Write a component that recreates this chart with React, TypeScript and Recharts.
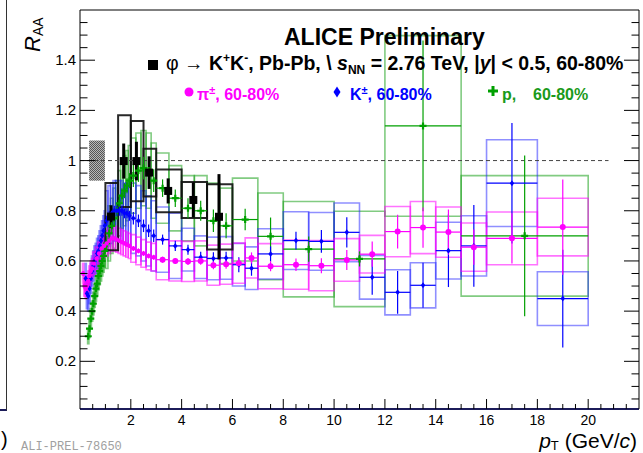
import React from "react";
import {
  ComposedChart,
  XAxis,
  YAxis,
  Scatter,
  ErrorBar,
  ReferenceArea,
  ReferenceLine,
} from "recharts";

const FONT = '"Liberation Sans", Arial, Helvetica, sans-serif';
const PI_COL = "#ff00ff";
const K_COL = "#0000ff";
const P_COL = "#00a000";
const PHI_COL = "#000000";

// axis ticks
const xTicks = Array.from({ length: 43 }, (_, i) => (i + 1) * 0.5);
const xTickLabels = [2, 4, 6, 8, 10, 12, 14, 16, 18, 20];
const yTicks = Array.from({ length: 31 }, (_, i) => Math.round((i + 1) * 5) / 100);
const yTickLabels = ["0.2", "0.4", "0.6", "0.8", "1", "1.2", "1.4"];

// pi+- 60-80%
const piEdges = [
  0.1, 0.15, 0.2, 0.25, 0.3, 0.35, 0.4, 0.45, 0.5, 0.6, 0.7, 0.8, 0.9, 1.0, 1.1, 1.2,
  1.3, 1.4, 1.5, 1.6, 1.7, 1.8, 1.9, 2.0, 2.2, 2.4, 2.6, 2.8, 3.0, 3.5, 4.0, 4.5, 5.0,
  5.5, 6.0, 6.5, 7.0, 8, 9, 10, 11, 12, 13, 14, 15, 16, 18, 20,
];
const piVal = [
  0.55, 0.5, 0.49, 0.5, 0.52, 0.54, 0.56, 0.57, 0.59, 0.61, 0.63, 0.65, 0.66, 0.67, 0.68,
  0.69, 0.69, 0.685, 0.68, 0.675, 0.67, 0.665, 0.66, 0.65, 0.64, 0.63, 0.62, 0.615, 0.605,
  0.6, 0.598, 0.6, 0.583, 0.587, 0.591, 0.612, 0.579, 0.585, 0.581, 0.604, 0.627, 0.717,
  0.733, 0.715, 0.655, 0.69, 0.735,
];
const piStat = [
  0.01, 0.01, 0.01, 0.01, 0.01, 0.01, 0.01, 0.01, 0.008, 0.008, 0.008, 0.008, 0.008, 0.008,
  0.008, 0.008, 0.008, 0.008, 0.008, 0.008, 0.008, 0.008, 0.008, 0.01, 0.01, 0.01, 0.01,
  0.01, 0.012, 0.012, 0.014, 0.015, 0.016, 0.018, 0.02, 0.022, 0.02, 0.025, 0.03, 0.04,
  0.05, 0.067, 0.08, 0.09, 0.07, 0.1, 0.19,
];
const piSys = [
  0.04, 0.04, 0.04, 0.04, 0.04, 0.04, 0.04, 0.04, 0.045, 0.045, 0.045, 0.045, 0.045, 0.05,
  0.05, 0.05, 0.05, 0.05, 0.05, 0.05, 0.05, 0.05, 0.05, 0.055, 0.055, 0.055, 0.055, 0.055,
  0.08, 0.08, 0.08, 0.08, 0.08, 0.08, 0.08, 0.08, 0.09, 0.098, 0.1, 0.085, 0.075, 0.1,
  0.104, 0.1, 0.096, 0.105, 0.115,
];

// K+- 60-80%
const kEdges = [
  0.2, 0.25, 0.3, 0.35, 0.4, 0.45, 0.5, 0.55, 0.6, 0.65, 0.7, 0.75, 0.8, 0.85, 0.9, 0.95,
  1.0, 1.1, 1.2, 1.3, 1.4, 1.5, 1.6, 1.7, 1.8, 1.9, 2.0, 2.2, 2.4, 2.6, 2.8, 3.0, 3.5, 4.0,
  4.5, 5.0, 5.5, 6.0, 6.5, 7.0, 8, 9, 10, 11, 12, 13, 14, 15, 16, 18, 20,
];
const kVal = [
  0.53, 0.47, 0.46, 0.49, 0.53, 0.56, 0.58, 0.6, 0.61, 0.63, 0.64, 0.66, 0.68, 0.7, 0.72,
  0.74, 0.76, 0.78, 0.79, 0.8, 0.8, 0.8, 0.8, 0.79, 0.79, 0.78, 0.77, 0.76, 0.74, 0.72,
  0.7, 0.685, 0.66, 0.645, 0.615, 0.61, 0.612, 0.585, 0.571, 0.628, 0.681, 0.678, 0.714,
  0.535, 0.475, 0.503, 0.641, 0.66, 0.91, 0.45,
];
const kStat = [
  0.01, 0.01, 0.01, 0.01, 0.01, 0.01, 0.01, 0.01, 0.01, 0.01, 0.01, 0.01, 0.01, 0.01, 0.01,
  0.01, 0.02, 0.02, 0.02, 0.02, 0.02, 0.02, 0.02, 0.02, 0.02, 0.02, 0.025, 0.025, 0.025,
  0.025, 0.025, 0.02, 0.02, 0.02, 0.022, 0.025, 0.025, 0.03, 0.03, 0.03, 0.035, 0.045,
  0.06, 0.07, 0.085, 0.09, 0.145, 0.163, 0.24, 0.195,
];
const kSys = [
  0.06, 0.06, 0.06, 0.06, 0.06, 0.06, 0.06, 0.06, 0.06, 0.06, 0.06, 0.06, 0.06, 0.06, 0.06,
  0.06, 0.12, 0.12, 0.12, 0.12, 0.12, 0.12, 0.12, 0.12, 0.12, 0.12, 0.14, 0.14, 0.14, 0.14,
  0.14, 0.13, 0.13, 0.085, 0.085, 0.085, 0.085, 0.085, 0.085, 0.1, 0.115, 0.115, 0.117,
  0.087, 0.09, 0.09, 0.113, 0.12, 0.173, 0.107,
];

// p 60-80%
const pEdges = [
  0.3, 0.35, 0.4, 0.45, 0.5, 0.55, 0.6, 0.65, 0.7, 0.75, 0.8, 0.85, 0.9, 0.95, 1.0, 1.1,
  1.2, 1.3, 1.4, 1.5, 1.6, 1.7, 1.8, 1.9, 2.0, 2.2, 2.4, 2.6, 2.8, 3.0, 3.5, 4.0, 4.5, 5.0,
  5.5, 6.0, 7, 8, 10, 12, 15, 20,
];
const pVal = [
  0.3, 0.33, 0.37, 0.4, 0.43, 0.46, 0.49, 0.51, 0.54, 0.56, 0.58, 0.6, 0.62, 0.64, 0.67,
  0.71, 0.74, 0.77, 0.8, 0.83, 0.86, 0.88, 0.9, 0.92, 0.94, 0.96, 0.97, 0.96, 0.92, 0.89,
  0.85, 0.81, 0.8, 0.76, 0.74, 0.765, 0.698, 0.647, 0.608, 1.138, 0.7,
];
const pStat = [
  0.01, 0.01, 0.01, 0.01, 0.01, 0.01, 0.01, 0.01, 0.01, 0.01, 0.01, 0.01, 0.01, 0.01, 0.03,
  0.03, 0.03, 0.03, 0.03, 0.03, 0.03, 0.03, 0.03, 0.03, 0.045, 0.045, 0.045, 0.045, 0.045,
  0.035, 0.035, 0.04, 0.04, 0.045, 0.05, 0.043, 0.075, 0.05, 0.03, 0.34, 0.32,
];
const pSys = [
  0.03, 0.035, 0.04, 0.04, 0.045, 0.045, 0.05, 0.05, 0.055, 0.055, 0.06, 0.06, 0.065, 0.065,
  0.1, 0.11, 0.11, 0.12, 0.12, 0.13, 0.13, 0.14, 0.14, 0.14, 0.15, 0.15, 0.15, 0.15, 0.15,
  0.14, 0.13, 0.13, 0.14, 0.15, 0.15, 0.165, 0.173, 0.19, 0.19, 0.36, 0.24,
];

// phi -> K+K- 60-80%
const phiEdges = [1.0, 1.5, 2.0, 2.5, 3.0, 4.0, 5.0, 6.0];
const phiPt = [1.22, 1.72, 2.22, 2.72, 3.47, 4.46, 5.47];
const phiVal = [0.777, 0.998, 0.998, 0.952, 0.879, 0.843, 0.776];
const phiStat = [0.045, 0.07, 0.077, 0.065, 0.05, 0.07, 0.17];
const phiSys = [0.134, 0.183, 0.16, 0.095, 0.085, 0.072, 0.13];

// normalisation uncertainty box at unity
const normBox = { x1: 0.36, x2: 0.98, y1: 0.92, y2: 1.08 };

function binPoints(edges: number[], val: number[], stat: number[]) {
  return val.map((v, i) => {
    const lo = edges[i];
    const hi = edges[i + 1];
    const x = (lo + hi) / 2;
    return { x, y: v, ey: stat[i], ex: [x - lo, hi - x] };
  });
}

const piData = binPoints(piEdges, piVal, piStat);
const kData = binPoints(kEdges, kVal, kStat);
const pData = binPoints(pEdges, pVal, pStat);
const phiData = phiVal.map((v, i) => ({ x: phiPt[i], y: v, ey: phiStat[i] }));

function sysBoxes(name: string, edges: number[], val: number[], sys: number[], color: string, width: number, opacity: number) {
  return val.map((v, i) => (
    <ReferenceArea
      key={`${name}-${i}`}
      x1={edges[i]}
      x2={edges[i + 1]}
      y1={v - sys[i]}
      y2={v + sys[i]}
      fill="none"
      stroke={color}
      strokeWidth={width}
      strokeOpacity={opacity}
    />
  ));
}

const BottomTick = (p: any) => {
  const v = p.payload.value;
  const major = xTickLabels.includes(v);
  return (
    <g>
      <line x1={p.x} x2={p.x} y1={p.y} y2={p.y - (major ? 10 : 5)} stroke="#000" />
      {major && (
        <text x={p.x} y={p.y + 16} textAnchor="middle" fontSize={14} fontFamily={FONT} fill="#000">
          {v}
        </text>
      )}
    </g>
  );
};

const TopTick = (p: any) => {
  const major = xTickLabels.includes(p.payload.value);
  return <line x1={p.x} x2={p.x} y1={p.y} y2={p.y + (major ? 9 : 5)} stroke="#000" />;
};

const isMajorY = (v: number) => Math.abs(v * 5 - Math.round(v * 5)) < 1e-6;

const LeftTick = (p: any) => {
  const v = p.payload.value;
  const major = isMajorY(v);
  return (
    <g>
      <line x1={p.x} x2={p.x + (major ? 15 : 7.5)} y1={p.y} y2={p.y} stroke="#000" />
      {major && (
        <text x={p.x - 4} y={p.y + 5} textAnchor="end" fontSize={15} fontFamily={FONT} fill="#000">
          {yTickLabels[Math.round(v * 5) - 1]}
        </text>
      )}
    </g>
  );
};

const RightTick = (p: any) => {
  const major = isMajorY(p.payload.value);
  return <line x1={p.x} x2={p.x - (major ? 15 : 7.5)} y1={p.y} y2={p.y} stroke="#000" />;
};

const PiDot = (p: any) => (
  <circle cx={p.cx} cy={p.cy} r={p.payload.x > 3 ? 3 : 2.2} fill={PI_COL} />
);
const KDot = (p: any) => (
  <polygon
    points={`${p.cx},${p.cy - 3} ${p.cx + 2.2},${p.cy} ${p.cx},${p.cy + 3} ${p.cx - 2.2},${p.cy}`}
    fill={K_COL}
  />
);
const PDot = (p: any) => (
  <path
    d={`M${p.cx - 3.5},${p.cy - 1.1}h2.4v-2.4h2.2v2.4h2.4v2.2h-2.4v2.4h-2.2v-2.4h-2.4z`}
    fill={P_COL}
  />
);
const PhiDot = (p: any) => <rect x={p.cx - 4} y={p.cy - 4} width={8} height={8} fill={PHI_COL} />;

const abs = (left: number, top: number, extra: React.CSSProperties = {}): React.CSSProperties => ({
  position: "absolute",
  left,
  top,
  lineHeight: 1,
  whiteSpace: "nowrap",
  fontFamily: FONT,
  ...extra,
});

const supStyle = (size: number, top: number): React.CSSProperties => ({
  fontSize: size,
  position: "relative",
  top,
});

export default function App() {
  return (
    <div style={{ position: "absolute", left: 0, top: 0, width: 643, height: 453, background: "#fff", overflow: "hidden" }}>
      <svg width={0} height={0} style={{ position: "absolute" }}>
        <defs>
          <pattern id="normHatch" width={2} height={2} patternUnits="userSpaceOnUse">
            <rect width={2} height={2} fill="#b8b8b8" />
            <rect width={1} height={1} fill="#555" />
            <rect x={1} y={1} width={1} height={1} fill="#555" />
          </pattern>
        </defs>
      </svg>

      {/* remnant of neighbouring panel */}
      <div style={{ position: "absolute", left: 0, top: 0, width: 6, height: 409, borderRight: "1.5px solid #333", borderBottom: "2px solid #1c1c5a" }} />
      <div style={abs(1, 429, { fontSize: 20 })}>)</div>

      <ComposedChart width={643} height={453} margin={{ top: 9, right: 3, bottom: 14, left: 40 }}>
        <XAxis
          type="number"
          dataKey="x"
          domain={[0, 22]}
          allowDataOverflow
          ticks={xTicks}
          interval={0}
          tickSize={0}
          tickMargin={0}
          tick={BottomTick}
          height={30}
          axisLine={{ stroke: "#1c1c5a", strokeWidth: 2 }}
        />
        <XAxis
          xAxisId="top"
          orientation="top"
          type="number"
          domain={[0, 22]}
          allowDataOverflow
          ticks={xTicks}
          interval={0}
          tickSize={0}
          tickMargin={0}
          tick={TopTick}
          height={1}
          axisLine={{ stroke: "#000" }}
        />
        <YAxis
          type="number"
          dataKey="y"
          domain={[0.01, 1.6]}
          allowDataOverflow
          ticks={yTicks}
          interval={0}
          tickSize={0}
          tickMargin={0}
          tick={LeftTick}
          width={40}
          axisLine={{ stroke: "#000" }}
        />
        <YAxis
          yAxisId="right"
          orientation="right"
          type="number"
          domain={[0.01, 1.6]}
          allowDataOverflow
          ticks={yTicks}
          interval={0}
          tickSize={0}
          tickMargin={0}
          tick={RightTick}
          width={1}
          axisLine={{ stroke: "#000" }}
        />

        <ReferenceArea {...normBox} fill="url(#normHatch)" fillOpacity={1} stroke="none" />
        <ReferenceLine
          segment={[{ x: 0, y: 1 }, { x: 20.8, y: 1 }]}
          stroke="#444"
          strokeDasharray="4 3"
          strokeWidth={1}
        />

        {sysBoxes("p", pEdges, pVal, pSys, "#1aa01a", 1.6, 0.55)}
        {sysBoxes("k", kEdges, kVal, kSys, "#2020ff", 1.6, 0.5)}
        {sysBoxes("pi", piEdges, piVal, piSys, "#ff00ff", 1.6, 0.55)}
        {sysBoxes("phi", phiEdges, phiVal, phiSys, "#111", 2, 0.9)}

        <Scatter data={pData} shape={PDot} isAnimationActive={false}>
          <ErrorBar dataKey="ex" direction="x" width={0} stroke={P_COL} strokeWidth={1.2} />
          <ErrorBar dataKey="ey" direction="y" width={0} stroke={P_COL} strokeWidth={1.2} />
        </Scatter>
        <Scatter data={kData} shape={KDot} isAnimationActive={false}>
          <ErrorBar dataKey="ex" direction="x" width={0} stroke={K_COL} strokeWidth={1.2} />
          <ErrorBar dataKey="ey" direction="y" width={0} stroke={K_COL} strokeWidth={1.2} />
        </Scatter>
        <Scatter data={piData} shape={PiDot} isAnimationActive={false}>
          <ErrorBar dataKey="ex" direction="x" width={0} stroke={PI_COL} strokeWidth={1.2} />
          <ErrorBar dataKey="ey" direction="y" width={0} stroke={PI_COL} strokeWidth={1.2} />
        </Scatter>
        <Scatter data={phiData} shape={PhiDot} isAnimationActive={false}>
          <ErrorBar dataKey="ey" direction="y" width={0} stroke={PHI_COL} strokeWidth={3} />
        </Scatter>
      </ComposedChart>

      {/* y axis title */}
      <div style={abs(22, 52, { transform: "rotate(-90deg)", transformOrigin: "0 0", fontSize: 22 })}>
        <i>R</i>
        <span style={supStyle(14, 3)}>AA</span>
      </div>

      <div style={abs(284, 25.5, { fontSize: 23, fontWeight: "bold" })}>ALICE Preliminary</div>

      <svg style={{ position: "absolute", left: 147, top: 59 }} width={12} height={12}>
        <rect x={1} y={1} width={10} height={10} fill="#000" />
      </svg>
      <div style={abs(166, 53.6, { fontSize: 19.5, fontWeight: "bold" })}>
        <span style={{ fontWeight: "normal" }}>φ → </span>K<span style={supStyle(12, -8)}>+</span>K
        <span style={supStyle(12, -8)}>-</span>, Pb-Pb, \ <i>s</i>
        <span style={supStyle(12, 4)}>NN</span> = 2.76 TeV, |<i>y</i>| &lt; 0.5, 60-80%
      </div>

      <svg style={{ position: "absolute", left: 183, top: 86 }} width={12} height={12}>
        <circle cx={6} cy={6} r={4.5} fill={PI_COL} />
      </svg>
      <div style={abs(197, 86.5, { fontSize: 16, fontWeight: "bold", color: PI_COL })}>
        π<span style={supStyle(11, -6)}>±</span>, 60-80%
      </div>

      <svg style={{ position: "absolute", left: 331, top: 85 }} width={12} height={14}>
        <polygon points="6,1.5 9.5,7 6,12.5 2.5,7" fill={K_COL} />
      </svg>
      <div style={abs(350, 86.5, { fontSize: 16, fontWeight: "bold", color: K_COL })}>
        K<span style={supStyle(11, -6)}>±</span>, 60-80%
      </div>

      <svg style={{ position: "absolute", left: 487, top: 85 }} width={12} height={12}>
        <path d="M1,4.5h3.5v-3.5h3v3.5h3.5v3h-3.5v3.5h-3v-3.5h-3.5z" fill={P_COL} />
      </svg>
      <div style={abs(502, 86.5, { fontSize: 16, fontWeight: "bold", color: "#1a9a1a" })}>p,</div>
      <div style={abs(533, 86.5, { fontSize: 16, fontWeight: "bold", color: "#1a9a1a" })}>60-80%</div>

      {/* x axis title */}
      <div style={{ ...abs(0, 429.5, { fontSize: 21 }), left: "auto", right: 6 }}>
        <i>p</i>
        <span style={supStyle(13, 2)}>T</span> (GeV/<i>c</i>)
      </div>

      <div style={abs(21, 440.5, { fontSize: 12, color: "#a0a0a0", fontFamily: '"Liberation Mono", "DejaVu Sans Mono", monospace' })}>
        ALI-PREL-78650
      </div>
    </div>
  );
}
